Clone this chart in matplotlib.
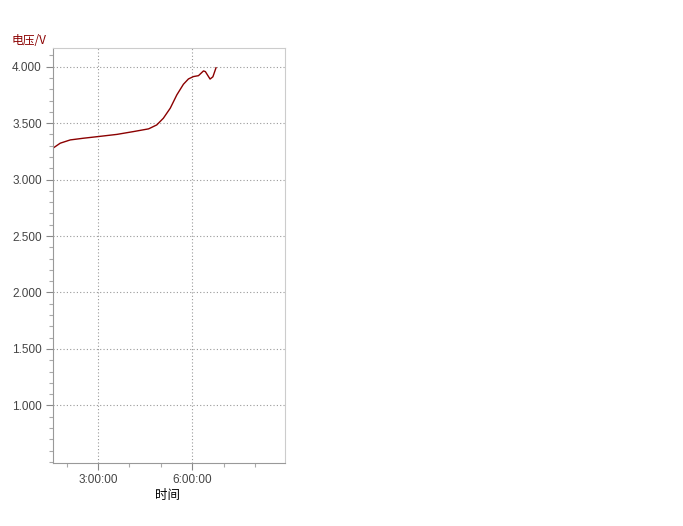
import matplotlib
matplotlib.use("Agg")
import matplotlib.pyplot as plt
from matplotlib.ticker import MultipleLocator

plt.rcParams['font.family'] = ['Noto Sans CJK SC', 'DejaVu Sans']

# time in hours, voltage in V
hours = [1.56, 1.79, 2.11, 2.53, 3.01, 3.60, 4.13, 4.61, 4.87, 5.08, 5.30,
         5.51, 5.72, 5.88, 6.04, 6.20, 6.36, 6.42, 6.57, 6.66, 6.76]
volts = [3.278, 3.322, 3.351, 3.366, 3.381, 3.400, 3.425, 3.449, 3.484, 3.543,
         3.632, 3.750, 3.844, 3.891, 3.912, 3.920, 3.962, 3.956, 3.890, 3.910, 3.990]

x_ticks = [3, 6]
x_tick_labels = ["3:00:00", "6:00:00"]
y_ticks = [1.0, 1.5, 2.0, 2.5, 3.0, 3.5, 4.0]
y_tick_labels = ["1.000", "1.500", "2.000", "2.500", "3.000", "3.500", "4.000"]

line_color = "#8b0000"
text_color = "#444444"

fig = plt.figure(figsize=(6.83, 5.26), dpi=100)
ax = fig.add_axes([53 / 683, 1 - 463 / 526, 232 / 683, 415 / 526])

ax.plot(hours, volts, color=line_color, lw=1.0)

ax.set_xlim(1.56, 8.96)
ax.set_ylim(0.49, 4.165)

ax.set_xticks(x_ticks)
ax.set_xticklabels(x_tick_labels)
ax.set_yticks(y_ticks)
ax.set_yticklabels(y_tick_labels)
ax.xaxis.set_minor_locator(MultipleLocator(1))
ax.yaxis.set_minor_locator(MultipleLocator(0.1))
for lab in ax.get_xticklabels() + ax.get_yticklabels():
    lab.set_family(['Liberation Sans', 'DejaVu Sans'])

ax.tick_params(axis='both', which='major', length=5, width=0.8, color="#888888",
               labelsize=8.5, labelcolor=text_color, pad=3)
ax.tick_params(axis='both', which='minor', length=3, width=0.8, color="#aaaaaa")

ax.grid(True, which='major', linestyle=(0, (1, 2)), color="#999999", lw=0.8)

for side in ['left', 'bottom']:
    ax.spines[side].set_color("#999999")
for side in ['top', 'right']:
    ax.spines[side].set_color("#cccccc")

fig.text(12 / 683, 1 - 40 / 526, "电压/V", color=line_color, fontsize=8.5, va='center')
fig.text(168 / 683, 1 - 496 / 526, "时间", color="black", fontsize=9,
         ha='center', va='center')

fig.savefig("out.png", dpi=100)
